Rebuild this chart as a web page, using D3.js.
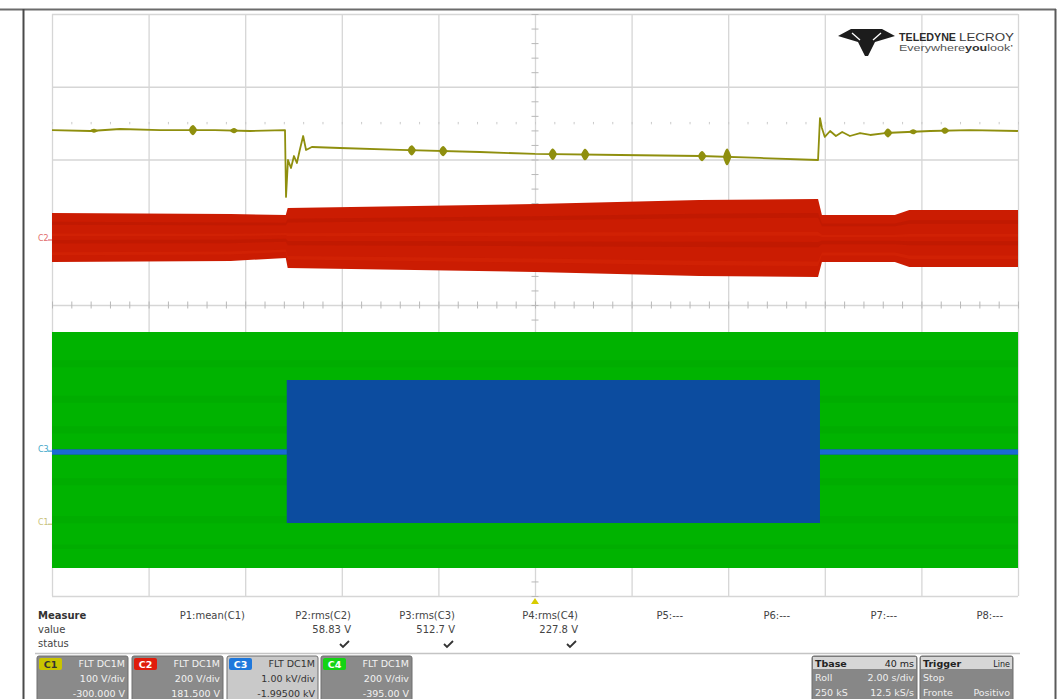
<!DOCTYPE html>
<html>
<head>
<meta charset="utf-8">
<script src="https://cdn.jsdelivr.net/npm/d3@7/dist/d3.min.js"></script>
<style>
  html, body { margin: 0; padding: 0; background: #fff; }
  svg { display: block; font-family: "DejaVu Sans", "Liberation Sans", Arial, sans-serif; }
</style>
</head>
<body>
<svg id="scope" width="1064" height="699"></svg>
<script>
// ---- Acquisition: 10 divisions x 2 s/div (roll mode), 8 vertical divisions ----
const timeDivs = [0, 2, 4, 6, 8, 10, 12, 14, 16, 18, 20];          // s
const vertDivs = [-4, -3, -2, -1, 0, 1, 2, 3, 4];                   // div

// Channel settings (scale V/div, offset V)
const chNames   = ["C1", "C2", "C3", "C4"];
const chScale   = [100, 200, 1000, 200];
const chOffset  = [-300, 181.5, -1995, -395];
const chScaleTxt  = ["100 V/div", "200 V/div", "1.00 kV/div", "200 V/div"];
const chOffsetTxt = ["-300.000 V", "181.500 V", "-1.99500 kV", "-395.00 V"];
const chCoupling  = ["FLT  DC1M", "FLT  DC1M", "FLT  DC1M", "FLT  DC1M"];

// C1: DC bus voltage (V)
const c1Time  = [0, 0.79, 1.41, 2.24, 3.37, 4.10, 4.824, 4.845, 4.886, 4.948, 5.01, 5.07, 5.13, 5.20, 5.26, 5.38, 5.96, 7.20, 8.86, 10.0, 11.76, 13.42, 14.66, 15.86, 15.90, 15.94, 16.00, 16.11, 16.23, 16.36, 16.52, 16.73, 16.94, 17.25, 18.18, 19.01, 20];
const c1Volts = [540.5, 539.2, 541.9, 540.5, 540.5, 539.2, 540.5, 448.5, 499.3, 488.3, 504.8, 495.2, 513.1, 532.3, 513.1, 517.2, 515.8, 513.1, 510.3, 507.6, 506.2, 504.8, 502.1, 499.3, 557.0, 543.3, 531.0, 539.2, 532.3, 537.8, 532.3, 536.4, 533.7, 536.4, 539.2, 540.5, 539.2];
// C1 short ripple bursts: time (s) and half-amplitude (V)
const c1BurstTime = [0.87, 2.92, 3.77, 7.45, 8.10, 10.37, 11.04, 13.46, 13.98, 17.31, 17.83, 18.49];
const c1BurstAmp  = [3, 8, 4, 8, 8, 9, 9, 8, 13, 7, 4, 5];

// C2: AC envelope (V)
const c2Time  = [0, 3.7, 4.84, 4.88, 10, 13.4, 15.86, 15.94, 17.45, 17.75, 20];
const c2Upper = [71.4, 68.7, 65.9, 85.2, 96.2, 107.2, 109.9, 65.9, 65.9, 79.7, 79.7];
const c2Lower = [-63.3, -60.5, -52.3, -79.8, -90.8, -101.8, -104.5, -63.3, -63.3, -77.0, -77.0];

// C3: switched output envelope (V)
const c3Time  = [0, 4.86, 4.86, 15.9, 15.9, 20];
const c3Upper = [10, 10, 964, 964, 10, 10];
const c3Lower = [-60, -60, -1002, -1002, -60, -60];

// C4: line voltage envelope (V)
const c4Time  = [0, 20];
const c4Upper = [321, 321];
const c4Lower = [-328, -328];

// Measurements
const measLabels = ["P1:mean(C1)", "P2:rms(C2)", "P3:rms(C3)", "P4:rms(C4)", "P5:---", "P6:---", "P7:---", "P8:---"];
const measValues = ["", "58.83 V", "512.7 V", "227.8 V", "", "", "", ""];
const measOk     = [false, true, true, true, false, false, false, false];

// Timebase / trigger panel
const tbaseRows   = [["Tbase", "40 ms"], ["Roll", "2.00 s/div"], ["250 kS", "12.5 kS/s"]];
const triggerRows = [["Trigger", "Line"], ["Stop", ""], ["Fronte", "Positivo"]];

// ---- Layout ----
const W = 1064, H = 699;
const plot = { left: 52, right: 1018, top: 14, bottom: 596 };
const colours = {
  c1: "#8f8f0e", c2: "#cb1c02", c2dark: "#b01300", c2light: "#dc2c0a",
  c3: "#0c4c9f", c3line: "#1a6ad4", c4: "#00b300", c4dark: "#00a400",
  grid: "#d6d6d6"
};
const badge = ["#c9c400", "#e01d0c", "#1f78dc", "#14d414"];

const svg = d3.select("#scope");

const x = d3.scaleLinear().domain([0, 20]).range([plot.left, plot.right]);
const yDiv = d3.scaleLinear().domain([-4, 4]).range([plot.bottom, plot.top]);
const yCh = (ch, v) => yDiv((v + chOffset[ch]) / chScale[ch]);

// ---- Outer frame ----
svg.append("line").attr("x1", 0).attr("x2", 1056).attr("y1", 9.5).attr("y2", 9.5)
  .attr("stroke", "#6c6c6c").attr("stroke-width", 2);
svg.append("line").attr("x1", 23.5).attr("x2", 23.5).attr("y1", 9).attr("y2", H)
  .attr("stroke", "#4a4a4a").attr("stroke-width", 2);
svg.append("line").attr("x1", 1055.5).attr("x2", 1055.5).attr("y1", 9).attr("y2", H)
  .attr("stroke", "#5a5a5a").attr("stroke-width", 2);

// ---- Graticule ----
const gridG = svg.append("g");
gridG.append("g").attr("transform", `translate(0,${plot.bottom})`)
  .call(d3.axisBottom(x).tickValues(timeDivs).tickSize(-(plot.bottom - plot.top)).tickFormat(""));
gridG.append("g").attr("transform", `translate(${plot.left},0)`)
  .call(d3.axisLeft(yDiv).tickValues(vertDivs).tickSize(-(plot.right - plot.left)).tickFormat(""));
gridG.selectAll(".domain").remove();
gridG.selectAll("line").attr("stroke", colours.grid).attr("stroke-width", 1.3);

// minor ticks on the centre axes
const minorT = d3.range(0, 20.001, 0.4);
const minorV = d3.range(-4, 4.001, 0.2);
const minorG = svg.append("g");
[d3.axisTop, d3.axisBottom].forEach(ax => {
  minorG.append("g").attr("transform", `translate(0,${yDiv(0)})`)
    .call(ax(x).tickValues(minorT).tickSize(3.5).tickFormat(""))
    .selectAll("line").attr("stroke", "#b8b8b8");
  minorG.append("g").attr("transform", `translate(0,${yDiv(2.5)})`)
    .call(ax(x).tickValues(minorT).tickSize(1.2).tickFormat(""))
    .selectAll("line").attr("stroke", "#c8c8c8");
});
[d3.axisLeft, d3.axisRight].forEach(ax => {
  minorG.append("g").attr("transform", `translate(${x(10)},0)`)
    .call(ax(yDiv).tickValues(minorV).tickSize(3.5).tickFormat(""))
    .selectAll("line").attr("stroke", "#b8b8b8");
});
minorG.selectAll(".domain").remove();

// ---- Traces ----
const bandArea = (ch) => d3.area()
  .x(d => x(d.t)).y0(d => yCh(ch, d.lo)).y1(d => yCh(ch, d.hi)).curve(d3.curveLinear);
const toBand = (t, hi, lo) => t.map((tt, i) => ({ t: tt, hi: hi[i], lo: lo[i] }));
const stripe = (band, f0, f1) => band.map(d => ({ t: d.t, hi: d.hi + (d.lo - d.hi) * f0, lo: d.hi + (d.lo - d.hi) * f1 }));

// C4 green
const c4Band = toBand(c4Time, c4Upper, c4Lower);
svg.append("path").datum(c4Band).attr("d", bandArea(3)).attr("fill", colours.c4);
[[0.12, 0.15], [0.27, 0.30], [0.40, 0.43], [0.62, 0.65], [0.78, 0.81], [0.9, 0.92]].forEach(([a, b]) => {
  svg.append("path").datum(stripe(c4Band, a, b)).attr("d", bandArea(3))
    .attr("fill", colours.c4dark).attr("opacity", 0.35);
});

// C3 blue
const c3Band = toBand(c3Time, c3Upper, c3Lower);
svg.append("path").datum(c3Band).attr("d", bandArea(2)).attr("fill", colours.c3);
svg.append("path").datum(c3Band.filter((d, i) => i < 2)).attr("d", bandArea(2)).attr("fill", colours.c3line);
svg.append("path").datum(c3Band.filter((d, i) => i > 3)).attr("d", bandArea(2)).attr("fill", colours.c3line);

// C2 red
const c2Band = toBand(c2Time, c2Upper, c2Lower);
svg.append("path").datum(c2Band).attr("d", bandArea(1)).attr("fill", colours.c2);
[[0.18, 0.24, colours.c2dark], [0.42, 0.47, colours.c2light], [0.55, 0.62, colours.c2dark], [0.8, 0.86, colours.c2light]].forEach(([a, b, c]) => {
  svg.append("path").datum(stripe(c2Band, a, b)).attr("d", bandArea(1))
    .attr("fill", c).attr("opacity", 0.35);
});

// C1 olive trace
const c1Data = c1Time.map((t, i) => ({ t, v: c1Volts[i] }));
const c1Line = d3.line().x(d => x(d.t)).y(d => yCh(0, d.v));
svg.append("path").datum(c1Data).attr("d", c1Line)
  .attr("fill", "none").attr("stroke", colours.c1).attr("stroke-width", 1.8).attr("stroke-linejoin", "round");
const c1At = t => {
  const i = Math.max(1, d3.bisector(d => d.t).left(c1Data, t));
  const a = c1Data[i - 1], b = c1Data[i];
  return a.v + (b.v - a.v) * (t - a.t) / (b.t - a.t);
};
c1BurstTime.forEach((t, i) => {
  const c = c1At(t), a = c1BurstAmp[i], w = 0.09;
  const pts = [[-w, 0], [-w * 0.5, 0.7], [0, 1], [w * 0.5, 0.6], [w, 0]];
  const up = pts.map(([dt, k]) => ({ t: t + dt, hi: c + a * k, lo: c - a * k }));
  svg.append("path").datum(up).attr("d", d3.area().x(d => x(d.t)).y0(d => yCh(0, d.lo)).y1(d => yCh(0, d.hi)).curve(d3.curveBasis))
    .attr("fill", colours.c1);
});

// channel ground markers
const markerCol = ["#c9c27a", "#e26c6c", "#3fa6c8", "#3fa6c8"];
[1, 2, 0].forEach(ch => {
  const yy = yDiv(chOffset[ch] / chScale[ch]);
  svg.append("text").attr("x", 38).attr("y", yy + 2).text(chNames[ch])
    .attr("font-size", 8).attr("fill", markerCol[ch]);
  svg.append("line").attr("x1", 48).attr("x2", plot.left).attr("y1", yy + 1).attr("y2", yy + 1)
    .attr("stroke", markerCol[ch]).attr("stroke-width", 1.2);
});

// trigger marker
svg.append("path").attr("d", `M${x(10)},${plot.bottom + 2} l4,6 l-8,0 Z`).attr("fill", "#d8cc00");

// ---- Logo ----
const logo = svg.append("g").attr("transform", "translate(838,29)");
logo.append("path").attr("d", "M0,7 L13,0 L44,0 L57,7 L37,13 L30,27 L27,27 L20,13 Z").attr("fill", "#1c1c1c");
logo.append("path").attr("d", "M14,4 L22,11 M43,4 L35,11").attr("stroke", "#fff").attr("stroke-width", 1.3);
logo.append("text").attr("x", 61).attr("y", 12).attr("font-size", 11.5).attr("font-weight", "bold")
  .attr("font-family", "Liberation Sans, Arial, sans-serif")
  .attr("textLength", 57).attr("lengthAdjust", "spacingAndGlyphs").attr("fill", "#2a2a2a").text("TELEDYNE");
logo.append("text").attr("x", 121).attr("y", 12).attr("font-size", 11.5)
  .attr("font-family", "Liberation Sans, Arial, sans-serif")
  .attr("textLength", 55).attr("lengthAdjust", "spacingAndGlyphs").attr("fill", "#3a3a3a").text("LECROY");
const tag = logo.append("text").attr("x", 61).attr("y", 22).attr("font-size", 9.5).attr("fill", "#555")
  .attr("font-family", "Liberation Sans, Arial, sans-serif")
  .attr("textLength", 114).attr("lengthAdjust", "spacingAndGlyphs");
tag.append("tspan").text("Everywhere");
tag.append("tspan").attr("font-weight", "bold").attr("fill", "#333").text("you");
tag.append("tspan").text("look\u2019");

// ---- Measurement table ----
const meas = svg.append("g").attr("font-size", 10).attr("fill", "#444");
meas.append("text").attr("x", 38).attr("y", 619).attr("font-weight", "bold").attr("fill", "#333").text("Measure");
meas.append("text").attr("x", 38).attr("y", 633).text("value");
meas.append("text").attr("x", 38).attr("y", 647).text("status");
const measRight = [245, 351, 455, 578, 683, 790, 897, 1003];
measLabels.forEach((l, i) => {
  meas.append("text").attr("x", measRight[i]).attr("y", 619).attr("text-anchor", "end").text(l);
  if (measValues[i]) meas.append("text").attr("x", measRight[i]).attr("y", 633).attr("text-anchor", "end").text(measValues[i]);
  if (measOk[i]) meas.append("path")
    .attr("d", `M${measRight[i] - 11},${644} l3,3 l6,-6`)
    .attr("fill", "none").attr("stroke", "#333").attr("stroke-width", 1.8);
});
svg.append("line").attr("x1", 35).attr("x2", 1020).attr("y1", 653.5).attr("y2", 653.5)
  .attr("stroke", "#c4c4c4").attr("stroke-width", 1.5);

// ---- Channel descriptor boxes ----
const boxX = [37, 132, 227, 321];
const boxW = 91;
chNames.forEach((n, i) => {
  const g = svg.append("g").attr("transform", `translate(${boxX[i]},656)`);
  const light = i === 2;
  g.append("rect").attr("width", boxW).attr("height", 50).attr("rx", 2)
    .attr("fill", light ? "#c9c9c9" : "#8a8a8a").attr("stroke", "#6e6e6e");
  g.append("rect").attr("x", 2).attr("y", 2).attr("width", 23).attr("height", 12).attr("rx", 2).attr("fill", badge[i]);
  g.append("text").attr("x", 13.5).attr("y", 11.5).attr("text-anchor", "middle").attr("font-size", 9.5)
    .attr("font-weight", "bold").attr("fill", i === 0 ? "#333" : "#fff").text(n);
  const tc = light ? "#333" : "#f2f2f2";
  [[chCoupling[i], 11], [chScaleTxt[i], 26], [chOffsetTxt[i], 41]].forEach(([t, yy]) => {
    g.append("text").attr("x", boxW - 3).attr("y", yy).attr("text-anchor", "end")
      .attr("font-size", 9.5).attr("fill", tc).text(t);
  });
});

// ---- Timebase and trigger panels ----
function panel(x0, w, rows) {
  const g = svg.append("g").attr("transform", `translate(${x0},656)`);
  g.append("rect").attr("width", w).attr("height", 50).attr("rx", 2).attr("fill", "#878787").attr("stroke", "#6e6e6e");
  g.append("rect").attr("x", 1).attr("y", 1).attr("width", w - 2).attr("height", 12).attr("fill", "#d6d6d6");
  rows.forEach(([l, r], k) => {
    const yy = 10.5 + k * 14.5;
    const col = k === 0 ? "#222" : "#eee";
    g.append("text").attr("x", 3).attr("y", yy).attr("font-size", 9.5)
      .attr("font-weight", k === 0 ? "bold" : "normal").attr("fill", col).text(l);
    if (r) g.append("text").attr("x", w - 3).attr("y", yy).attr("text-anchor", "end")
      .attr("font-size", k === 0 && x0 > 900 ? 8 : 9.5).attr("fill", col).text(r);
  });
}
panel(812, 105, tbaseRows);
panel(920, 93, triggerRows);
</script>
</body>
</html>
